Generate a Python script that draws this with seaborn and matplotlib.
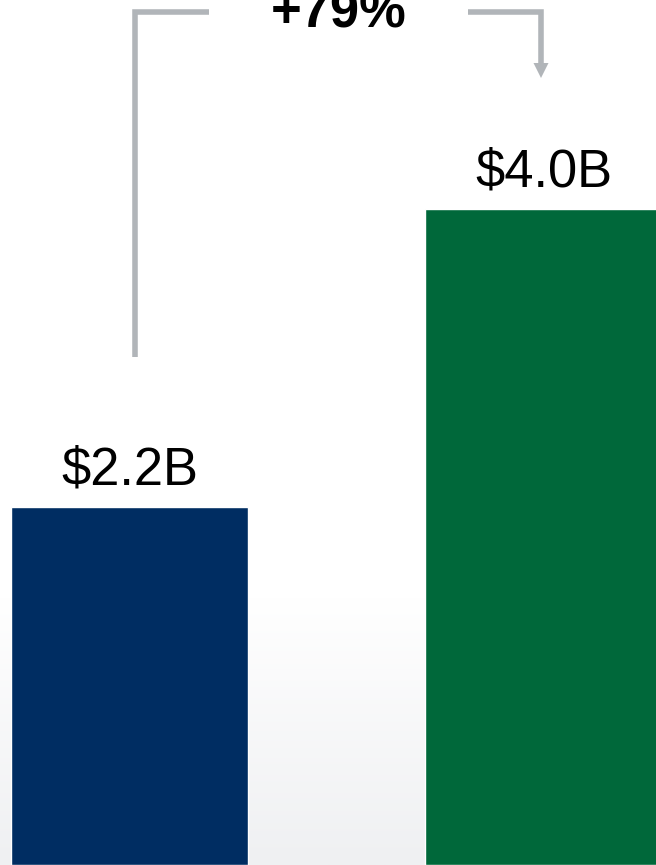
import numpy as np
import pandas as pd
import matplotlib
matplotlib.use('Agg')
import matplotlib.pyplot as plt
import seaborn as sns

periods = ['Before', 'After']
values = [2.18, 4.0]
value_labels = ['$2.2B', '$4.0B']
growth_label = '+79%'
bar_colors = ['#002D62', '#00683A']

ARROW = '#B1B5B9'
PX_X = 414.0    # pixels per category step
PX_Y = 164.0    # pixels per $1B

sns.set_theme(style='white')
plt.rcParams['font.family'] = ['Liberation Sans', 'DejaVu Sans']

fig = plt.figure(figsize=(6.56, 8.65), dpi=100)
ax = fig.add_axes([0, 0, 1, 1])

df = pd.DataFrame({'period': periods, 'value': values})
sns.barplot(data=df, x='period', y='value', hue='period', palette=bar_colors,
            width=237 / PX_X, saturation=1, legend=False, ax=ax, zorder=2)

x_lo = -129.5 / PX_X
x_hi = (656 - 129.5) / PX_X
y_hi = 865 / PX_Y
ax.set_xlim(x_lo, x_hi)
ax.set_ylim(0, y_hi)
ax.set_axis_off()

# soft grey fade at the bottom
grad = np.linspace(0, 1, 256).reshape(-1, 1)
cmap = matplotlib.colors.LinearSegmentedColormap.from_list('fade', ['#EFF0F2', '#FFFFFF'])
ax.imshow(grad, cmap=cmap, origin='lower', aspect='auto', zorder=0,
          extent=[x_lo, x_hi, 0, (865 - 597) / PX_Y])

# value labels above bars
for i, (v, lab) in enumerate(zip(values, value_labels)):
    ax.text(i, v + 23 / PX_Y, lab, ha='center', va='baseline', fontsize=37.8, color='black')

# growth bracket
top = (865 - 12) / PX_Y
xl = 0 + 5.5 / PX_X
xr = 1 - 2.5 / PX_X
ax.plot([xl, xl, 0.192], [(865 - 357) / PX_Y, top, top], color=ARROW, lw=4,
        solid_joinstyle='miter', solid_capstyle='butt', zorder=3)
ax.plot([0.818, xr, xr], [top, top, (865 - 64) / PX_Y], color=ARROW, lw=4,
        solid_joinstyle='miter', solid_capstyle='butt', zorder=3)
hw = 7.5 / PX_X
ax.fill([xr - hw, xr + hw, xr], [(865 - 63) / PX_Y, (865 - 63) / PX_Y, (865 - 78) / PX_Y],
        color=ARROW, lw=0, zorder=3)
ax.text((338.5 - 129.5) / PX_X, (865 - 28) / PX_Y, growth_label, ha='center', va='baseline',
        fontsize=37.8, fontweight='bold', color='black')

fig.savefig('out.png', dpi=100)
